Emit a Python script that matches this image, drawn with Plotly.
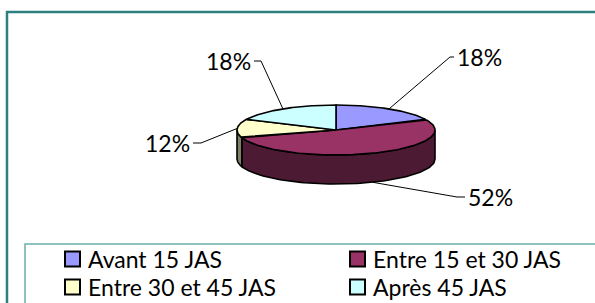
import numpy as np
import plotly.graph_objects as go

# ---- data ----
categories = ["Avant 15 JAS", "Entre 15 et 30 JAS", "Entre 30 et 45 JAS", "Après 45 JAS"]
values = [18, 52, 12, 18]

# ---- styles ----
top_colors = ["#9999FF", "#993366", "#FFFFCC", "#CCFFFF"]
side_colors = ["#4D4D80", "#4D1A33", "#80806A", "#668080"]
FONT = "Lato"
FS = 23

W, H = 595, 303
cx, cy = 336, 130       # centre of the top face
rx, ry = 99, 25         # ellipse radii
depth = 29              # thickness

def pt(theta, dz=0.0):
    return cx + rx * np.sin(theta), cy - ry * np.cos(theta) + dz

total = float(sum(values))
bounds = np.concatenate([[0], np.cumsum(values)]) / total * 2 * np.pi

fig = go.Figure()

# side walls (only the front half, 90deg..270deg, is visible)
for i in range(len(values)):
    a = max(bounds[i], np.pi / 2)
    b = min(bounds[i + 1], 3 * np.pi / 2)
    if a >= b:
        continue
    t = np.linspace(a, b, 80)
    xt, yt = pt(t)
    xb, yb = pt(t[::-1], depth)
    fig.add_trace(go.Scatter(
        x=np.concatenate([xt, xb, xt[:1]]), y=np.concatenate([yt, yb, yt[:1]]),
        mode="lines", fill="toself", fillcolor=side_colors[i],
        line=dict(color="black", width=1.6), hoverinfo="skip", showlegend=False))

# top faces
for i in range(len(values)):
    t = np.linspace(bounds[i], bounds[i + 1], 120)
    xa, ya = pt(t)
    fig.add_trace(go.Scatter(
        x=np.concatenate([[cx], xa, [cx]]), y=np.concatenate([[cy], ya, [cy]]),
        mode="lines", fill="toself", fillcolor=top_colors[i],
        line=dict(color="black", width=1.6), name=categories[i],
        hoverinfo="name", showlegend=False))

# labels with leader lines: elbow point and text edge (layout positions)
label_layout = [
    dict(elbow=(450, 57), text_x=454, anchor="left"),
    dict(elbow=(457, 197), text_x=465, anchor="left"),
    dict(elbow=(201, 143), text_x=193, anchor="right"),
    dict(elbow=(261, 61), text_x=254, anchor="right"),
]
for i, v in enumerate(values):
    mid = (bounds[i] + bounds[i + 1]) / 2
    front = np.pi / 2 < mid < 3 * np.pi / 2
    ax_, ay_ = pt(mid, depth if front else 0)
    ex, ey = label_layout[i]["elbow"]
    tx = label_layout[i]["text_x"]
    fig.add_trace(go.Scatter(
        x=[ax_, ex, tx], y=[ay_, ey, ey], mode="lines",
        line=dict(color="black", width=1), hoverinfo="skip", showlegend=False))
    fig.add_annotation(
        x=tx + (1 if label_layout[i]["anchor"] == "left" else -1), y=ey,
        text=f"{v}%", showarrow=False,
        xanchor=label_layout[i]["anchor"], yanchor="middle",
        font=dict(family=FONT, size=FS, color="black"))

# outer frame and legend box
fig.add_shape(type="rect", x0=7, y0=12, x1=W + 10, y1=H + 10,
              line=dict(color="#2E7F7F", width=2.5), layer="below")
fig.add_shape(type="rect", x0=25, y0=244, x1=W + 10, y1=H + 10,
              line=dict(color="#6AAEAB", width=1.5), layer="below")

# legend entries
leg_pos = [(65, 259), (350, 259), (65, 287), (350, 287)]
for i, name in enumerate(categories):
    lx, ly = leg_pos[i]
    fig.add_shape(type="rect", x0=lx, y0=ly - 7.5, x1=lx + 15, y1=ly + 7.5,
                  fillcolor=top_colors[i], line=dict(color="black", width=2))
    fig.add_annotation(x=lx + 21, y=ly, text=name, showarrow=False,
                       xanchor="left", yanchor="middle",
                       font=dict(family=FONT, size=FS, color="black"))

fig.update_xaxes(range=[0, W], visible=False, fixedrange=True)
fig.update_yaxes(range=[H, 0], visible=False, fixedrange=True)
fig.update_layout(width=W, height=H, margin=dict(l=0, r=0, t=0, b=0),
                  plot_bgcolor="white", paper_bgcolor="white", showlegend=False)

fig.write_html("out.html", config={"displayModeBar": False},
               post_script="document.body.style.margin='0px';"
                           "document.body.style.overflow='hidden';")
